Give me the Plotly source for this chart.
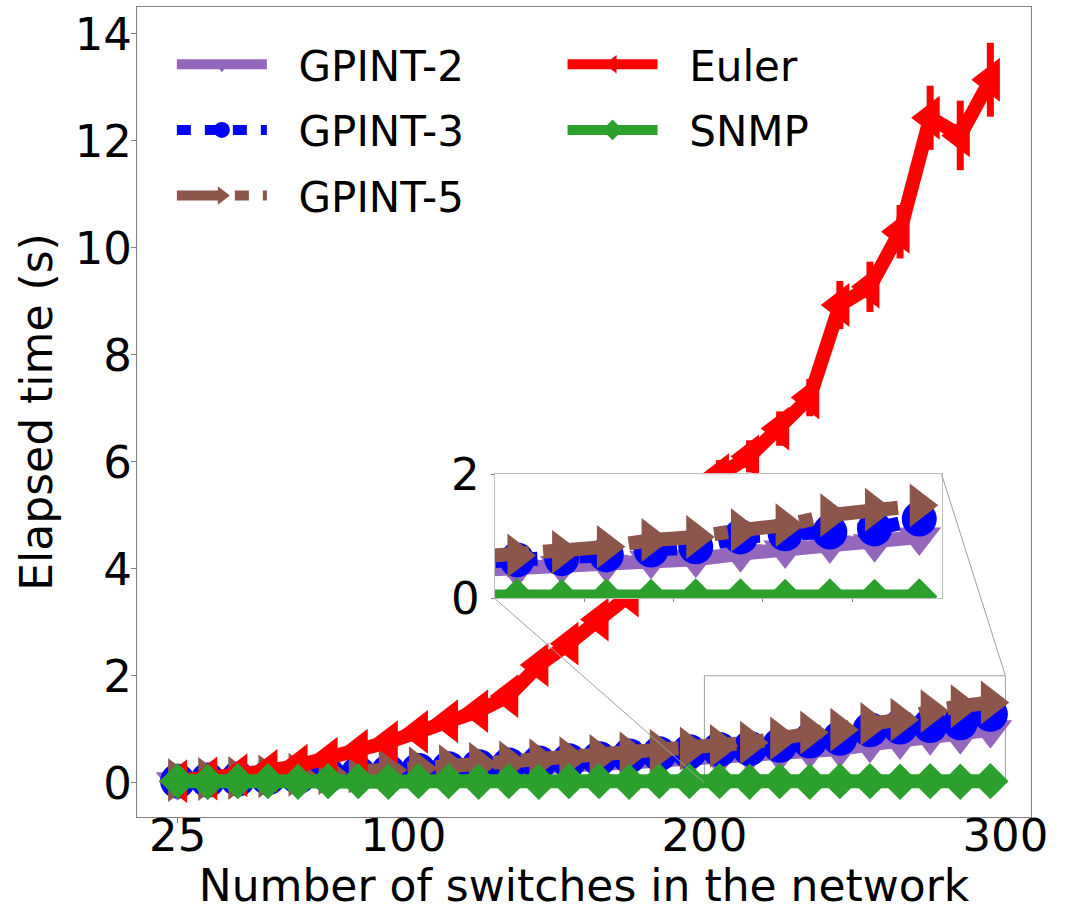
import plotly.graph_objects as go

# ---------------- data ----------------
switches = [25, 35, 45, 55, 65, 75, 85, 95, 105, 115, 125, 135, 145, 155,
            165, 175, 185, 195, 205, 215, 225, 235, 245, 255, 265, 275, 285, 295]

gpint2 = [0.02, 0.03, 0.05, 0.06, 0.08, 0.10, 0.12, 0.14, 0.17, 0.19, 0.22, 0.25, 0.28, 0.31,
          0.35, 0.38, 0.41, 0.44, 0.47, 0.53, 0.55, 0.61, 0.63, 0.72, 0.78, 0.86, 0.88, 0.99]
gpint2_err = [0.01, 0.01, 0.01, 0.02, 0.02, 0.02, 0.02, 0.03, 0.03, 0.03, 0.03, 0.04, 0.04, 0.04,
              0.04, 0.05, 0.05, 0.05, 0.05, 0.06, 0.06, 0.06, 0.06, 0.07, 0.07, 0.08, 0.08, 0.08]

gpint3 = [0.03, 0.05, 0.07, 0.09, 0.11, 0.14, 0.17, 0.20, 0.23, 0.26, 0.30, 0.33, 0.37, 0.41,
          0.45, 0.50, 0.54, 0.58, 0.62, 0.64, 0.70, 0.78, 0.83, 0.99, 1.04, 1.07, 1.12, 1.28]
gpint3_err = [0.01, 0.01, 0.01, 0.02, 0.02, 0.02, 0.02, 0.03, 0.03, 0.03, 0.03, 0.04, 0.04, 0.04,
              0.04, 0.05, 0.05, 0.05, 0.05, 0.06, 0.06, 0.06, 0.06, 0.07, 0.07, 0.08, 0.08, 0.08]

gpint5 = [0.05, 0.07, 0.09, 0.12, 0.15, 0.18, 0.21, 0.24, 0.27, 0.31, 0.35, 0.38, 0.42, 0.46,
          0.50, 0.55, 0.60, 0.64, 0.69, 0.75, 0.83, 0.94, 0.99, 1.10, 1.18, 1.34, 1.43, 1.50]
gpint5_err = [0.01, 0.01, 0.01, 0.02, 0.02, 0.02, 0.02, 0.03, 0.03, 0.03, 0.03, 0.04, 0.04, 0.04,
              0.04, 0.05, 0.05, 0.05, 0.05, 0.06, 0.06, 0.06, 0.06, 0.07, 0.07, 0.08, 0.08, 0.08]

euler = [0.03, 0.08, 0.14, 0.22, 0.32, 0.45, 0.60, 0.76, 0.95, 1.15, 1.34, 1.62, 2.20, 2.60,
         3.05, 3.50, 4.30, 5.00, 5.75, 6.10, 6.62, 7.20, 8.93, 9.27, 10.30, 12.43, 12.10, 13.14]
euler_err = [0.02, 0.03, 0.03, 0.04, 0.05, 0.05, 0.06, 0.07, 0.08, 0.09, 0.10, 0.12, 0.15, 0.15,
             0.18, 0.20, 0.22, 0.25, 0.28, 0.30, 0.32, 0.35, 0.45, 0.47, 0.50, 0.60, 0.65, 0.69]

snmp = [0.03, 0.02, 0.03, 0.03, 0.02, 0.03, 0.03, 0.02, 0.03, 0.03, 0.02, 0.03, 0.02, 0.03,
        0.03, 0.02, 0.03, 0.03, 0.03, 0.02, 0.03, 0.02, 0.03, 0.03, 0.02, 0.03, 0.02, 0.03]
snmp_err = [0.01] * 28

x_ticks = [25, 100, 200, 300]
y_ticks = [0, 2, 4, 6, 8, 10, 12, 14]
inset_x_ticks = [220, 240, 260, 280]
inset_y_ticks = [0, 2]

# ---------------- style ----------------
FONT = "DejaVu Sans"
X_RANGE = [11.5, 308.5]
Y_RANGE = [-0.64, 14.5]
INSET_X = [200, 300]
INSET_Y = [0, 2]
INSET_DOM_X = [0.4, 0.9]
INSET_DOM_Y = [0.27, 0.423]
LW = 14
ELW = 7
PAD = "\u00a0\u00a0"  # gap between legend handle and label

series = [
    dict(name="GPINT-2", y=gpint2, e=gpint2_err, color="#9467bd", symbol="triangle-down", size=38, dash="solid", legend="legend"),
    dict(name="GPINT-3", y=gpint3, e=gpint3_err, color="#0000ff", symbol="circle", size=35, dash="14px,14px", legend="legend"),
    dict(name="GPINT-5", y=gpint5, e=gpint5_err, color="#8c564b", symbol="triangle-right", size=38, dash="44px,14px,14px,14px", legend="legend"),
    dict(name="Euler", y=euler, e=euler_err, color="#ff0000", symbol="triangle-left", size=38, dash="solid", legend="legend2"),
    dict(name="SNMP", y=snmp, e=snmp_err, color="#2ca02c", symbol="diamond", size=28, dash="solid", legend="legend2"),
]

fig = go.Figure()

for s in series:
    fig.add_trace(go.Scatter(
        x=switches, y=s["y"], name=PAD + s["name"], mode="lines+markers",
        line=dict(color=s["color"], width=LW, dash=s["dash"]),
        marker=dict(symbol=s["symbol"], size=s["size"], color=s["color"], line=dict(width=0)),
        error_y=dict(type="data", array=s["e"], color=s["color"], thickness=ELW, width=0),
        legend=s["legend"], legendgroup=s["name"],
        xaxis="x", yaxis="y",
    ))

# white background for inset (occludes the main traces)
fig.add_trace(go.Scatter(
    x=[INSET_X[0], INSET_X[1], INSET_X[1], INSET_X[0], INSET_X[0]],
    y=[INSET_Y[0], INSET_Y[0], INSET_Y[1], INSET_Y[1], INSET_Y[0]],
    fill="toself", fillcolor="white", mode="none", showlegend=False,
    hoverinfo="skip", xaxis="x2", yaxis="y2",
))

for s in series:
    if s["name"] == "Euler":
        continue
    fig.add_trace(go.Scatter(
        x=switches, y=s["y"], name=s["name"], mode="lines+markers",
        line=dict(color=s["color"], width=LW, dash=s["dash"]),
        marker=dict(symbol=s["symbol"], size=s["size"], color=s["color"], line=dict(width=0)),
        error_y=dict(type="data", array=s["e"], color=s["color"], thickness=ELW, width=0),
        showlegend=False, xaxis="x2", yaxis="y2",
    ))

# ---------------- inset indicator + connectors ----------------
def to_paper_x(v):
    return (v - X_RANGE[0]) / (X_RANGE[1] - X_RANGE[0])

def to_paper_y(v):
    return (v - Y_RANGE[0]) / (Y_RANGE[1] - Y_RANGE[0])

grey_thin = dict(color="#a0a0a0", width=1)
shapes = [
    dict(type="rect", xref="x", yref="y", x0=INSET_X[0], x1=INSET_X[1], y0=INSET_Y[0], y1=INSET_Y[1],
         line=grey_thin, layer="below"),
    dict(type="line", xref="paper", yref="paper",
         x0=INSET_DOM_X[0], y0=INSET_DOM_Y[0], x1=to_paper_x(INSET_X[0]), y1=to_paper_y(INSET_Y[0]),
         line=grey_thin, layer="above"),
    dict(type="line", xref="paper", yref="paper",
         x0=INSET_DOM_X[1], y0=INSET_DOM_Y[1], x1=to_paper_x(INSET_X[1]), y1=to_paper_y(INSET_Y[1]),
         line=grey_thin, layer="above"),
]

axis_common = dict(showgrid=False, zeroline=False, showline=True, mirror=True, automargin=False,
                   ticks="outside", tickcolor="#808080", tickfont=dict(size=45, color="black", family=FONT))

fig.update_layout(
    width=1081, height=911,
    margin=dict(l=137, r=50, t=7, b=94),
    paper_bgcolor="white", plot_bgcolor="white",
    font=dict(family=FONT, color="black"),
    xaxis=dict(range=X_RANGE, tickvals=x_ticks, ticktext=[str(v) for v in x_ticks],
               linecolor="#808080", linewidth=1, ticklen=5, ticklabelstandoff=-26,
               title=dict(text="Number of switches in the network", font=dict(size=44, family=FONT), standoff=0),
               **axis_common),
    yaxis=dict(range=Y_RANGE, tickvals=y_ticks, ticktext=[str(v) for v in y_ticks],
               linecolor="#808080", linewidth=1, ticklen=5, ticklabelstandoff=-10,
               title=dict(text="Elapsed time (s)", font=dict(size=44, family=FONT), standoff=8),
               **axis_common),
    xaxis2=dict(domain=INSET_DOM_X, anchor="y2", range=INSET_X, tickvals=inset_x_ticks,
                showticklabels=False, linecolor="#c0c0c0", linewidth=1, ticklen=3,
                **axis_common),
    yaxis2=dict(domain=INSET_DOM_Y, anchor="x2", range=INSET_Y, tickvals=inset_y_ticks,
                ticktext=[str(v) for v in inset_y_ticks],
                linecolor="#c0c0c0", linewidth=1, ticklen=3, ticklabelstandoff=2,
                **axis_common),
    shapes=shapes,
    showlegend=True,
    legend=dict(x=0.039, y=0.971, xanchor="left", yanchor="top", bgcolor="rgba(0,0,0,0)",
                font=dict(size=42, family=FONT), itemwidth=90, tracegroupgap=8,
                traceorder="grouped", itemsizing="trace"),
    legend2=dict(x=0.476, y=0.971, xanchor="left", yanchor="top", bgcolor="rgba(0,0,0,0)",
                 font=dict(size=42, family=FONT), itemwidth=90, tracegroupgap=8,
                 traceorder="grouped", itemsizing="trace"),
)

fig.write_html("out.html", config={"displayModeBar": False},
               post_script="document.body.style.margin='0px';")
